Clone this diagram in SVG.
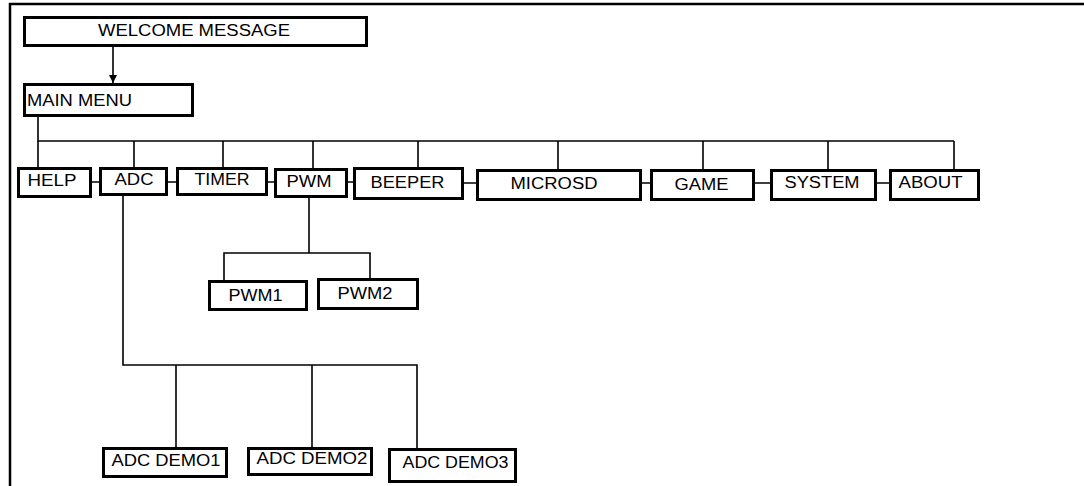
<svg xmlns="http://www.w3.org/2000/svg" width="1084" height="486" viewBox="0 0 1084 486">
<style>
.box{fill:#fff;stroke:#000;stroke-width:3}
.ln{fill:none;stroke:#000;stroke-width:1.6}
.fr{fill:none;stroke:#000;stroke-width:2.5}
text{font-family:"Liberation Sans",Arial,Helvetica,sans-serif;font-size:16px;fill:#000}
</style>
<defs>
<marker id="ah" viewBox="0 0 10 10" refX="10" refY="5" markerWidth="8" markerHeight="9" markerUnits="userSpaceOnUse" orient="auto">
<path d="M0,0 L10,5 L0,10 Z" fill="#000"/>
</marker>
</defs>
<rect width="1084" height="486" fill="#fff"/>
<path class="fr" d="M10,486 V4 H1084"/>
<g id="connectors">
<line class="ln" x1="113" y1="47" x2="113" y2="83" marker-end="url(#ah)"/>
<path class="ln" d="M38,117 V141 H954"/>
<path class="ln" d="M38,141 V168 M134,141 V167 M223,141 V167 M313,141 V168 M418,141 V167 M558,141 V169 M703,141 V169 M828,141 V169 M954,141 V169"/>
<path class="ln" d="M92,182 H99 M168,182 H176 M268,182 H274 M348,182 H353 M464,183 H476 M642,183 H650 M755,183 H770 M877,183 H889"/>
<path class="ln" d="M309,198 V253 M224,280 V253 H370 V278"/>
<path class="ln" d="M123,196 V365 H417 V448 M176,365 V447 M312,365 V447"/>
</g>
<g id="welcome"><rect class="box" x="24.5" y="17.5" width="342" height="28"/><text x="98" y="36" textLength="192" lengthAdjust="spacingAndGlyphs">WELCOME MESSAGE</text></g>
<g id="mainmenu"><rect class="box" x="24.5" y="84.5" width="168" height="31"/><text x="27" y="106" textLength="105" lengthAdjust="spacingAndGlyphs">MAIN MENU</text></g>
<g id="help"><rect class="box" x="18.5" y="168.5" width="72" height="28"/><text x="27.5" y="186" textLength="49" lengthAdjust="spacingAndGlyphs">HELP</text></g>
<g id="adc"><rect class="box" x="100.5" y="168.5" width="66" height="26"/><text x="114.5" y="185" textLength="39" lengthAdjust="spacingAndGlyphs">ADC</text></g>
<g id="timer"><rect class="box" x="177.5" y="168.5" width="89" height="26"/><text x="194.5" y="185" textLength="55" lengthAdjust="spacingAndGlyphs">TIMER</text></g>
<g id="pwm"><rect class="box" x="275.5" y="169.5" width="71" height="27"/><text x="286.5" y="187" textLength="45" lengthAdjust="spacingAndGlyphs">PWM</text></g>
<g id="beeper"><rect class="box" x="354.5" y="168.5" width="108" height="30"/><text x="370.5" y="188" textLength="74" lengthAdjust="spacingAndGlyphs">BEEPER</text></g>
<g id="microsd"><rect class="box" x="477.5" y="170.5" width="163" height="29"/><text x="510.5" y="189" textLength="87" lengthAdjust="spacingAndGlyphs">MICROSD</text></g>
<g id="game"><rect class="box" x="651.5" y="170.5" width="102" height="29"/><text x="674.5" y="190" textLength="54" lengthAdjust="spacingAndGlyphs">GAME</text></g>
<g id="system"><rect class="box" x="771.5" y="170.5" width="104" height="29"/><text x="784.5" y="188" textLength="75" lengthAdjust="spacingAndGlyphs">SYSTEM</text></g>
<g id="about"><rect class="box" x="890.5" y="170.5" width="88" height="29"/><text x="898.5" y="188" textLength="64" lengthAdjust="spacingAndGlyphs">ABOUT</text></g>
<g id="pwm1"><rect class="box" x="209.5" y="281.5" width="97" height="28"/><text x="228.5" y="301" textLength="54" lengthAdjust="spacingAndGlyphs">PWM1</text></g>
<g id="pwm2"><rect class="box" x="318.5" y="279.5" width="99" height="29"/><text x="337.5" y="299" textLength="55" lengthAdjust="spacingAndGlyphs">PWM2</text></g>
<g id="adcdemo1"><rect class="box" x="103.5" y="448.5" width="123" height="28"/><text x="111.5" y="466" textLength="109" lengthAdjust="spacingAndGlyphs">ADC DEMO1</text></g>
<g id="adcdemo2"><rect class="box" x="248.5" y="448.5" width="123" height="26"/><text x="256.5" y="464" textLength="111" lengthAdjust="spacingAndGlyphs">ADC DEMO2</text></g>
<g id="adcdemo3"><rect class="box" x="389.5" y="449.5" width="126" height="32"/><text x="402.5" y="468" textLength="106" lengthAdjust="spacingAndGlyphs">ADC DEMO3</text></g>
</svg>
